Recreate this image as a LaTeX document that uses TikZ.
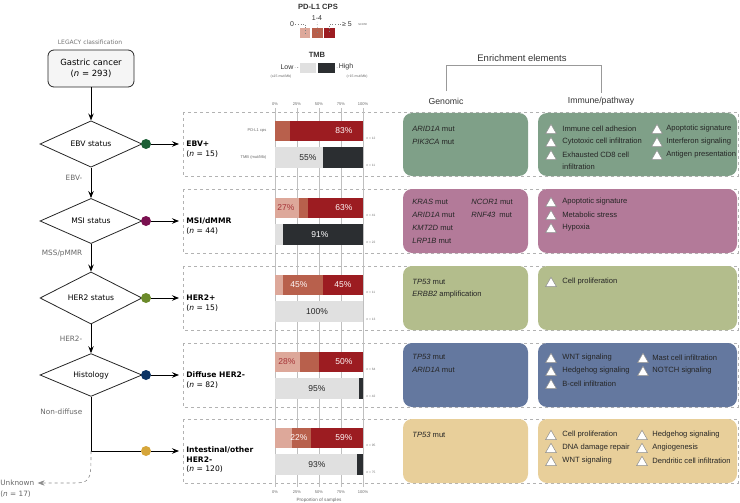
\documentclass[tikz,border=0pt]{standalone}
\usepackage{fontspec}
\setmainfont{Liberation Sans}
\newfontfamily\flowfont{DejaVu Sans}
\usetikzlibrary{shapes.geometric, arrows.meta, positioning}
\definecolor{cpszero}{RGB}{221,168,154}
\definecolor{cpslow}{RGB}{184,96,76}
\definecolor{cpshigh}{RGB}{156,28,33}
\definecolor{tmblow}{RGB}{224,224,224}
\definecolor{tmbhigh}{RGB}{43,46,49}
\definecolor{ebvcol}{RGB}{127,160,136}
\definecolor{msicol}{RGB}{179,122,153}
\definecolor{hercol}{RGB}{179,189,140}
\definecolor{difcol}{RGB}{100,120,159}
\definecolor{intcol}{RGB}{232,207,154}
\definecolor{ebvdot}{RGB}{27,94,52}
\definecolor{msidot}{RGB}{122,16,80}
\definecolor{herdot}{RGB}{107,138,42}
\definecolor{difdot}{RGB}{13,52,100}
\definecolor{intdot}{RGB}{214,166,58}

\begin{document}
\begin{tikzpicture}
  [>={Stealth[length=7pt,width=5.5pt,inset=2.5pt]}, x=1pt, y=-1pt, line width=0.8pt,
   decision/.style={shape=diamond, draw=black!85, minimum width=102pt, minimum height=38pt, inner sep=0pt, font=\flowfont\fontsize{7.6}{9}\selectfont},
   hubdot/.style={shape=circle, fill=#1, minimum size=10pt, inner sep=0pt},
   branchlabel/.style={text=black!60, font=\flowfont\fontsize{7.3}{9}\selectfont},
   grouplabel/.style={anchor=west, align=left, inner sep=0pt, font=\flowfont\fontsize{7.6}{9.5}\selectfont},
   rowframe/.style={draw=black!30, dashed, line width=0.6pt},
   gridline/.style={draw=black!25, line width=0.9pt},
   axislabel/.style={text=black!60, font=\fontsize{4}{5}\selectfont},
   nlabel/.style={text=black!55, font=\fontsize{3.2}{4}\selectfont, anchor=west, inner sep=0pt},
   pct/.style={font=\fontsize{8.5}{10}\selectfont, inner sep=0pt},
   entry/.style={anchor=west, inner sep=0pt, text=black!85, font=\fontsize{7.6}{9}\selectfont},
   sigtri/.style={regular polygon, regular polygon sides=3, draw=black!45, fill=white, minimum size=12.5pt, inner sep=0pt, line width=0.5pt},
   legendbox/.style={shape=rectangle, minimum width=10.5pt, minimum height=10.5pt, inner sep=0pt},
   legendtext/.style={text=black!80, font=\fontsize{7}{8}\selectfont, inner sep=1pt},
   legendnote/.style={text=black!60, font=\fontsize{3.5}{4}\selectfont, inner sep=0pt},
   leader/.style={draw=black!50, dotted, line width=0.6pt},
   headtext/.style={text=black!80, font=\fontsize{8.7}{10}\selectfont}]
  \useasboundingbox (0,0) rectangle (740,503);

  \node[legendtext, font=\bfseries\fontsize{7.6}{9}\selectfont] (cpstitle) at (318,7) {PD-L1 CPS};
  \node[legendbox, fill=cpszero] (cps0) at (305,33) {};
  \node[legendbox, fill=cpslow] (cps1) at (317.5,33) {};
  \node[legendbox, fill=cpshigh] (cps2) at (329.5,33) {};
  \node[legendtext] (cps0lab) at (292,24) {0};
  \node[legendtext] (cps1lab) at (317,18) {1-4};
  \node[legendtext] (cps2lab) at (347,24) {≥ 5};
  \node[legendnote, anchor=west] (scorelab) at (358,24.5) {score};
  \draw[leader] (cps0lab) -| (cps0.center);
  \draw[leader] (cps1lab) -- (cps1.center);
  \draw[leader] (cps2lab) -| (cps2.center);
  \node[legendtext, font=\bfseries\fontsize{7.6}{9}\selectfont] (tmbtitle) at (317,55) {TMB};
  \node[legendbox, fill=tmblow, minimum width=16pt] (tmbl) at (308,68) {};
  \node[legendbox, fill=tmbhigh, minimum width=17pt] (tmbh) at (326.5,68) {};
  \node[legendtext] (lowlab) at (287,67) {Low};
  \node[legendtext] (highlab) at (346,67) {High};
  \node[legendnote] (lowcut) at (281,76.5) {(≤15 mut/Mb)};
  \node[legendnote] (highcut) at (357,76.5) {(>15 mut/Mb)};
  \draw[leader] (lowlab) -- (tmbl);
  \draw[leader] (highlab) -- (tmbh);

  \node[headtext, font=\fontsize{9.5}{11}\selectfont] (enrich) at (522,58) {Enrichment elements};
  \node[headtext] (genomic) at (446,101) {Genomic};
  \node[headtext] (immune) at (601,101) {Immune/pathway};
  \draw[draw=black!40, line width=0.6pt, shorten <=3pt] (genomic.north) |- (enrich.south) -| (immune.north);

  \draw[rowframe] (183,112) rectangle (738,176);
  \draw[rowframe] (183,189) rectangle (738,253);
  \draw[rowframe] (183,266) rectangle (738,330);
  \draw[rowframe] (183,343) rectangle (738,407);
  \draw[rowframe] (183,419) rectangle (738,483);

  \fill[ebvcol, rounded corners=9pt] (403,113) rectangle (528,176);
  \fill[ebvcol, rounded corners=9pt] (538,113) rectangle (737,176);
  \fill[msicol, rounded corners=9pt] (403,189) rectangle (528,253);
  \fill[msicol, rounded corners=9pt] (538,189) rectangle (737,253);
  \fill[hercol, rounded corners=9pt] (403,266) rectangle (528,330);
  \fill[hercol, rounded corners=9pt] (538,266) rectangle (737,330);
  \fill[difcol, rounded corners=9pt] (403,343) rectangle (528,407);
  \fill[difcol, rounded corners=9pt] (538,343) rectangle (737,407);
  \fill[intcol, rounded corners=9pt] (403,419) rectangle (528,483);
  \fill[intcol, rounded corners=9pt] (538,419) rectangle (737,483);

  \node[font=\flowfont\fontsize{6}{7}\selectfont, text=black!55] (legacy) at (90,42) {LEGACY classification};
  \node[shape=rectangle, rounded corners=6pt, draw=black!85, fill=black!4, minimum width=86pt, minimum height=37pt, align=center, font=\flowfont\fontsize{8.5}{10.5}\selectfont] (gc) at (91,68.5) {Gastric cancer\\(\textit{n} = 293)};
  \node[decision] (ebv) at (91,144) {EBV status};
  \node[decision] (msi) at (91,221) {MSI status};
  \node[decision] (her2) at (91,298) {HER2 status};
  \node[decision] (hist) at (91,375) {Histology};
  \coordinate (bend) at (91,451);

  \node[hubdot=ebvdot] (ebvhub) at (146,144) {};
  \node[hubdot=msidot] (msihub) at (146,221) {};
  \node[hubdot=herdot] (herhub) at (146,298) {};
  \node[hubdot=difdot] (difhub) at (146,375) {};
  \node[hubdot=intdot] (inthub) at (146,451) {};

  \node[grouplabel] (ebvlab) at (186,149) {\textbf{EBV+}\\(\textit{n} = 15)};
  \node[grouplabel] (msilab) at (186,226) {\textbf{MSI/dMMR}\\(\textit{n} = 44)};
  \node[grouplabel] (herlab) at (186,303) {\textbf{HER2+}\\(\textit{n} = 15)};
  \node[grouplabel] (diflab) at (186,380) {\textbf{Diffuse HER2-}\\(\textit{n} = 82)};
  \node[grouplabel] (intlab) at (186,460) {\textbf{Intestinal/other}\\\textbf{HER2-}\\(\textit{n} = 120)};

  \path [->] (gc) edge (ebv);
  \path [->] (ebv) edge node[branchlabel, left=5pt, pos=0.34] (ebvneg) {EBV-} (msi);
  \path [->] (msi) edge node[branchlabel, left=5pt, pos=0.35] (mss) {MSS/pMMR} (her2);
  \path [->] (her2) edge node[branchlabel, left=5pt, pos=0.5] (herneg) {HER2-} (hist);
  \draw (hist) -- node[branchlabel, left=5pt, pos=0.27] (nondiff) {Non-diffuse} (bend) -- (inthub);
  \path [->, shorten >=7pt] (ebvhub) edge (ebvhub -| ebvlab.west);
  \path [->, shorten >=7pt] (msihub) edge (msihub -| msilab.west);
  \path [->, shorten >=7pt] (herhub) edge (herhub -| herlab.west);
  \path [->, shorten >=7pt] (difhub) edge (difhub -| diflab.west);
  \path [->, shorten >=7pt] (inthub) edge (inthub -| intlab.west);

  \node[branchlabel, anchor=west, inner sep=0pt] (unk) at (0,483) {Unknown};
  \node[branchlabel, anchor=west, inner sep=0pt] (unkn) at (0,494) {(\textit{n} = 17)};
  \draw[->, dashed, draw=black!45, line width=0.6pt, shorten >=3pt] (bend) .. controls (91,483) .. (68,483) -- (unk);

  \foreach \p in {0,25,50,75,100}
    {\draw[gridline] (275+0.88*\p,108) -- (275+0.88*\p,487);
     \node[axislabel] (top\p) at (275+0.88*\p,104) {\p\%};
     \node[axislabel] (bot\p) at (275+0.88*\p,492) {\p\%};}
  \node[axislabel, font=\fontsize{4.6}{5}\selectfont] (xtitle) at (319,500) {Proportion of samples};
  \node[axislabel, anchor=east] (cpsname) at (270,131) {PD-L1 cps};
  \node[axislabel, anchor=east] (tmbname) at (270,157.5) {TMB (mut/Mb)};

  \fill[cpslow] (275,121) rectangle (290,141);
  \fill[cpshigh] (290,121) rectangle (363,141);
  \fill[tmblow] (275,147) rectangle (323.4,168);
  \fill[tmbhigh] (323.4,147) rectangle (363,168);
  \node[pct, text=white!90!pink] (ebvp2) at (344,131) {83\%};
  \node[pct, text=black!85] (ebvt1) at (308,157.5) {55\%};
  \node[nlabel] (ebvn1) at (366,138) {\textit{n} = 12};
  \node[nlabel] (ebvn2) at (366,165) {\textit{n} = 11};

  \fill[cpszero] (275,198) rectangle (298.8,218);
  \fill[cpslow] (298.8,198) rectangle (307.6,218);
  \fill[cpshigh] (307.6,198) rectangle (363,218);
  \fill[tmblow] (275,224) rectangle (283,245);
  \fill[tmbhigh] (283,224) rectangle (363,245);
  \node[pct, text=cpshigh!90] (msip0) at (286,208) {27\%};
  \node[pct, text=white!90!pink] (msip2) at (344,208) {63\%};
  \node[pct, text=white] (msit2) at (320,234.5) {91\%};
  \node[nlabel] (msin1) at (366,215) {\textit{n} = 41};
  \node[nlabel] (msin2) at (366,242) {\textit{n} = 22};

  \fill[cpszero] (275,275) rectangle (283,295);
  \fill[cpslow] (283,275) rectangle (322.5,295);
  \fill[cpshigh] (322.5,275) rectangle (363,295);
  \fill[tmblow] (275,301) rectangle (363,322);
  \node[pct, text=white!90!pink] (herp1) at (299,285) {45\%};
  \node[pct, text=white!90!pink] (herp2) at (343,285) {45\%};
  \node[pct, text=black!85] (hert1) at (317,311.5) {100\%};
  \node[nlabel] (hern1) at (366,292) {\textit{n} = 11};
  \node[nlabel] (hern2) at (366,319) {\textit{n} = 13};

  \fill[cpszero] (275,352) rectangle (299.6,372);
  \fill[cpslow] (299.6,352) rectangle (319,372);
  \fill[cpshigh] (319,352) rectangle (363,372);
  \fill[tmblow] (275,378) rectangle (358.6,399);
  \fill[tmbhigh] (358.6,378) rectangle (363,399);
  \node[pct, text=cpshigh!90] (difp0) at (287,362) {28\%};
  \node[pct, text=white!90!pink] (difp2) at (344,362) {50\%};
  \node[pct, text=black!85] (dift1) at (317,388.5) {95\%};
  \node[nlabel] (difn1) at (366,369) {\textit{n} = 64};
  \node[nlabel] (difn2) at (366,396) {\textit{n} = 42};

  \fill[cpszero] (275,428) rectangle (291.7,448);
  \fill[cpslow] (291.7,428) rectangle (311,448);
  \fill[cpshigh] (311,428) rectangle (363,448);
  \fill[tmblow] (275,454) rectangle (356.8,475);
  \fill[tmbhigh] (356.8,454) rectangle (363,475);
  \node[pct, text=white!90!pink] (intp1) at (299,438) {22\%};
  \node[pct, text=white!90!pink] (intp2) at (344,438) {59\%};
  \node[pct, text=black!85] (intt1) at (317,464.5) {93\%};
  \node[nlabel] (intn1) at (366,445) {\textit{n} = 95};
  \node[nlabel] (intn2) at (366,472) {\textit{n} = 75};

  \node[entry] (ebvg1) at (412,129) {\textit{ARID1A} mut};
  \node[entry] (ebvg2) at (412,142) {\textit{PIK3CA} mut};
  \node[entry] (msig1) at (412,202) {\textit{KRAS} mut};
  \node[entry] (msig2) at (412,215) {\textit{ARID1A} mut};
  \node[entry] (msig3) at (412,228) {\textit{KMT2D} mut};
  \node[entry] (msig4) at (412,241) {\textit{LRP1B} mut};
  \node[entry] (msig5) at (471,202) {\textit{NCOR1} mut};
  \node[entry] (msig6) at (471,215) {\textit{RNF43}\enspace mut};
  \node[entry] (herg1) at (412,282) {\textit{TP53} mut};
  \node[entry] (herg2) at (412,295) {\textit{ERBB2} amplification};
  \node[entry] (difg1) at (412,357) {\textit{TP53} mut};
  \node[entry] (difg2) at (412,370) {\textit{ARID1A} mut};
  \node[entry] (intg1) at (412,435) {\textit{TP53} mut};

  \foreach \txt [count=\k from 0] in {Immune cell adhesion, Cytotoxic cell infiltration, Exhausted CD8 cell}
    {\node[sigtri] (ebvtri\k) at (551,130.5+13*\k) {};
     \node[entry] (ebvsig\k) at (562,129+13*\k) {\txt};}
  \node[entry] (ebvsig3) at (562,167) {infiltration};
  \foreach \txt [count=\k from 0] in {Apoptotic signature, Interferon signaling, Antigen presentation}
    {\node[sigtri] (ebvtrib\k) at (657,130.5+13*\k) {};
     \node[entry] (ebvsigb\k) at (666,129+13*\k) {\txt};}
  \foreach \txt [count=\k from 0] in {Apoptotic signature, Metabolic stress, Hypoxia}
    {\node[sigtri] (msitri\k) at (551,203.5+13*\k) {};
     \node[entry] (msisig\k) at (562,202+13*\k) {\txt};}
  \node[sigtri] (hertri0) at (551,283.5) {};
  \node[entry] (hersig0) at (562,282) {Cell proliferation};
  \foreach \txt [count=\k from 0] in {WNT signaling, Hedgehog signaling, B-cell infiltration}
    {\node[sigtri] (diftri\k) at (551,359.5+13*\k) {};
     \node[entry] (difsig\k) at (562,358+13*\k) {\txt};}
  \foreach \txt [count=\k from 0] in {Mast cell infiltration, NOTCH signaling}
    {\node[sigtri] (diftrib\k) at (643,359.5+13*\k) {};
     \node[entry] (difsigb\k) at (652,358+13*\k) {\txt};}
  \foreach \txt [count=\k from 0] in {Cell proliferation, DNA damage repair, WNT signaling}
    {\node[sigtri] (inttri\k) at (551,436.5+13*\k) {};
     \node[entry] (intsig\k) at (562,435+13*\k) {\txt};}
  \foreach \txt [count=\k from 0] in {Hedgehog signaling, Angiogenesis, Dendritic cell infiltration}
    {\node[sigtri] (inttrib\k) at (642,436.5+13*\k) {};
     \node[entry] (intsigb\k) at (652,435+13*\k) {\txt};}
\end{tikzpicture}
\end{document}
